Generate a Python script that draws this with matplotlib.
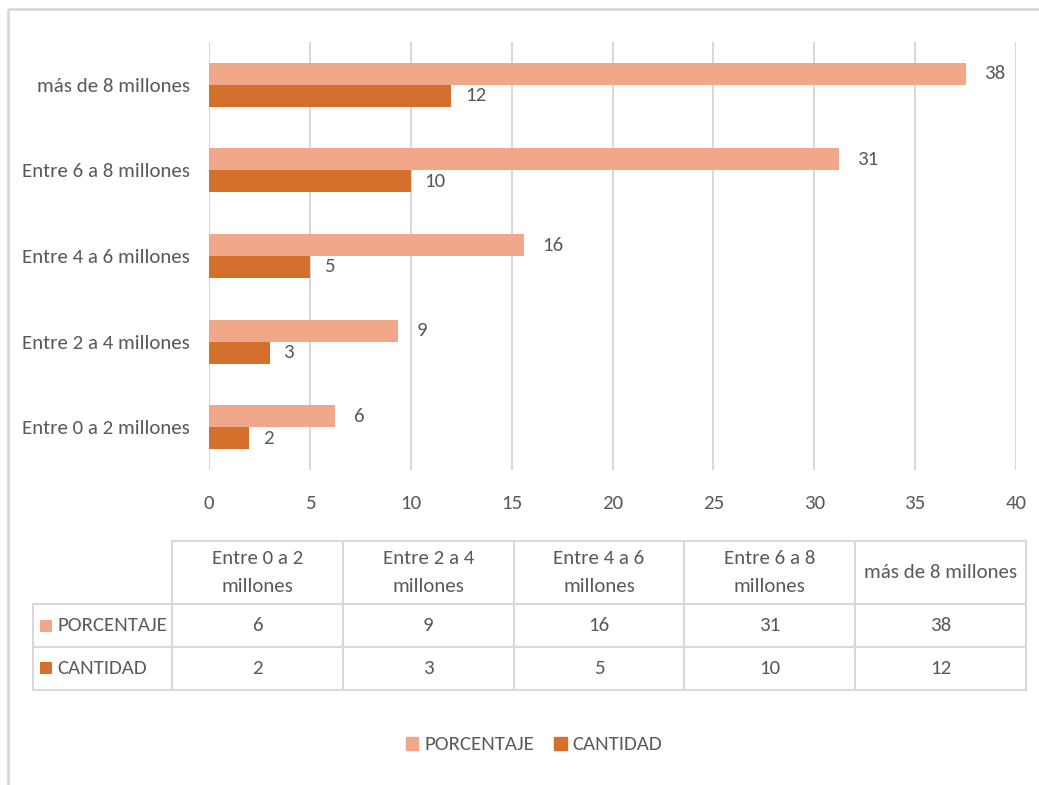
import matplotlib
matplotlib.use("Agg")
import matplotlib.pyplot as plt
import numpy as np
from matplotlib.patches import Rectangle, Patch
from matplotlib.table import Table

plt.rcParams['font.family'] = ['Carlito', 'DejaVu Sans']

# income ranges, bottom to top on the chart
categories = ['Entre 0 a 2 millones', 'Entre 2 a 4 millones', 'Entre 4 a 6 millones',
              'Entre 6 a 8 millones', 'más de 8 millones']
header_labels = ['Entre 0 a 2\nmillones', 'Entre 2 a 4\nmillones', 'Entre 4 a 6\nmillones',
                 'Entre 6 a 8\nmillones', 'más de 8 millones']
cantidad = [2, 3, 5, 10, 12]
porcentaje = [6.25, 9.375, 15.625, 31.25, 37.5]
series_names = ['PORCENTAJE', 'CANTIDAD']
x_ticks = [0, 5, 10, 15, 20, 25, 30, 35, 40]

c_pct = '#F1A78A'
c_cant = '#D4702B'
txt = '#595959'
line = '#D9D9D9'
fs = 15

W, H = 1039, 785
fig = plt.figure(figsize=(W / 100, H / 100), dpi=100)

# overlay in pixel units for the frame and table
over = fig.add_axes([0, 0, 1, 1])
over.set_xlim(0, W)
over.set_ylim(H, 0)
over.set_axis_off()
over.add_patch(Rectangle((8, 9), 1200, 900, fill=False, edgecolor=line, lw=2))

ax = fig.add_axes([209 / W, 1 - 470 / H, (1016 - 209) / W, (470 - 42) / H])
y = np.arange(len(categories))
h = 0.257
b1 = ax.barh(y + h / 2, porcentaje, height=h, color=c_pct, label=series_names[0])
b2 = ax.barh(y - h / 2, cantidad, height=h, color=c_cant, label=series_names[1])
ax.bar_label(b1, fmt='{:.0f}', padding=13, color=txt, fontsize=fs)
ax.bar_label(b2, fmt='{:.0f}', padding=10, color=txt, fontsize=fs)

ax.set_xlim(0, 40)
ax.set_ylim(-0.5, len(categories) - 0.5)
ax.set_xticks(x_ticks)
ax.set_yticks(y)
ax.set_yticklabels(categories)
ax.tick_params(axis='both', length=0, colors=txt, labelsize=fs)
ax.tick_params(axis='y', pad=13.5)
ax.tick_params(axis='x', pad=18)
ax.grid(axis='x', color=line, lw=1.5)
ax.set_axisbelow(True)
for s in ax.spines.values():
    s.set_visible(False)

# data table under the chart; bbox covers the value columns, row labels sit to its left
lab_w = 139 / W
col_w = (1026 - 172) / 5 / W
head_h = 63 / H
row_h = 43 / H
tbl = Table(over, bbox=[172 / W, 1 - 690 / H, (1026 - 172) / W, (690 - 541) / H])
for j, lab in enumerate(header_labels):
    c = tbl.add_cell(0, j, width=col_w, height=head_h, text=lab, loc='center')
    c.get_text().set_linespacing(1.75)
for i, (name, vals) in enumerate(zip(series_names, [porcentaje, cantidad])):
    c = tbl.add_cell(i + 1, -1, width=lab_w, height=row_h, text=name, loc='left')
    c.PAD = 0.175
    for j, v in enumerate(vals):
        tbl.add_cell(i + 1, j, width=col_w, height=row_h, text=f'{v:.0f}', loc='center')
tbl.auto_set_font_size(False)
tbl.set_fontsize(fs)
for cell in tbl.get_celld().values():
    cell.set_edgecolor(line)
    cell.set_linewidth(1.5)
    cell.get_text().set_color(txt)
over.add_table(tbl)

# colour keys inside the row labels
for yc, col in [(626, c_pct), (668, c_cant)]:
    over.add_patch(Rectangle((40, yc - 6), 12, 12, color=col, lw=0, zorder=5))

handles = [Patch(color=c_pct, label=series_names[0]), Patch(color=c_cant, label=series_names[1])]
fig.legend(handles=handles, loc='center', bbox_to_anchor=(534 / W, 1 - 745 / H), ncol=2,
           frameon=False, handlelength=0.6, handleheight=0.6, handletextpad=0.3,
           columnspacing=0.95, fontsize=fs, labelcolor=txt)

fig.savefig('out.png', dpi=100)
